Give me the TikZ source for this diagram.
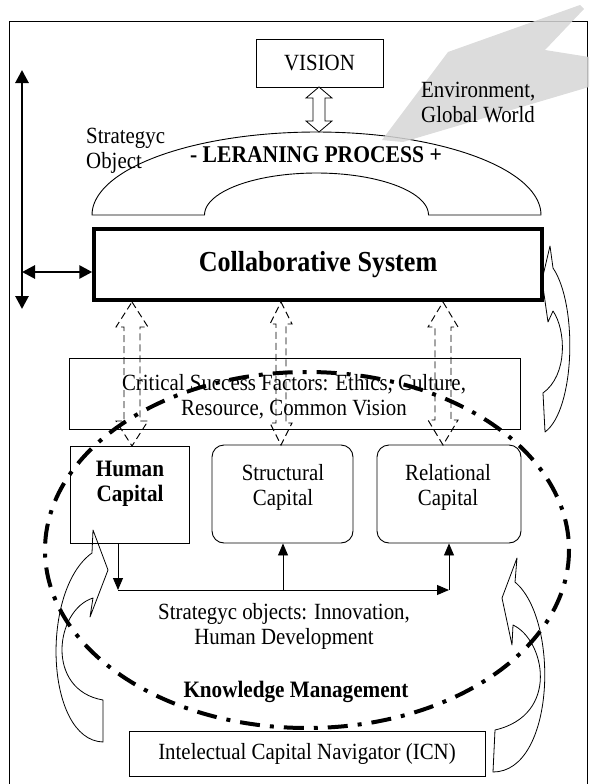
\documentclass[tikz,border=0pt]{standalone}
\usepackage{fontspec}
\setmainfont[FakeStretch=0.9]{Liberation Serif}
\usetikzlibrary{arrows.meta}
% block arrow with heads at both ends: #1 x, #2 y top, #3 y bottom, #4 half shaft, #5 half head, #6 head length, #7 style
\newcommand{\myblockarrow}[7]{%
  \draw[#7] (#1,#2) -- ({#1+#5},{#2+#6}) -- ({#1+#4},{#2+#6}) -- ({#1+#4},{#3-#6}) -- ({#1+#5},{#3-#6})
    -- (#1,#3) -- ({#1-#5},{#3-#6}) -- ({#1-#4},{#3-#6}) -- ({#1-#4},{#2+#6}) -- ({#1-#5},{#2+#6}) -- cycle;}
\begin{document}
\begin{tikzpicture}[x=1pt,y=-1pt,
  txt/.style={font=\fontsize{23.2}{25}\selectfont, align=center, inner sep=0pt},
  btxt/.style={font=\bfseries\fontsize{23.5}{25}\selectfont, align=center, inner sep=0pt},
  box/.style={draw, line width=0.9pt, fill=white, inner sep=0pt},
  rbox/.style={box, rounded corners=12pt},
  conn/.style={line width=0.9pt, -{Triangle[length=12pt,width=10pt]}},
  bigarrow/.style={line width=2.8pt, {Triangle[length=13pt,width=13pt]}-{Triangle[length=13pt,width=13pt]}},
  dasharrow/.style={draw, dash pattern=on 7pt off 4pt, line width=0.95pt},
  hollow/.style={draw, fill=white, line width=0.8pt},
  curvearrow/.style={draw, line width=0.8pt, line join=round},
  kmline/.style={line width=4pt, dash pattern=on 20pt off 10pt on 4pt off 10pt},
]
\useasboundingbox (0,0) rectangle (589,784);
% frame
\draw[line width=1pt] (9,790) -- (9,22) -- (587,22) -- (587,790);

% learning process arc
\draw[line width=0.9pt, fill=white] (92,215)
  -- plot[domain=180:360, samples=90] ({316.5+224.5*cos(\x)},{215+83*sin(\x)})
  -- (428.5,215)
  -- plot[domain=360:180, samples=60] ({316.5+112*cos(\x)},{215+42*sin(\x)})
  -- cycle;

% environment ribbon
\fill[gray!32, opacity=0.85] (382,140) -- (448,52) -- (580,5) -- (584,9) -- (545,50) -- (589,57) -- (589,87) -- (403,142) -- cycle;

% vision
\node[box, txt, minimum width=127pt, minimum height=48pt] (vision) at (319.5,63) {VISION};
\coordinate (arctop) at (319,132);
\myblockarrow{319}{87}{132}{6}{13}{11}{hollow}

\node[btxt, font=\bfseries\fontsize{24}{25}\selectfont] (lp) at (316,155) {- LERANING PROCESS +};
\node[txt, align=left, anchor=base west] (so) at (86,168) {Strategyc\\Object};
\node[txt, align=left, anchor=base west] (env) at (421,122) {Environment,\\Global World};

% collaborative system
\node[draw, line width=3.5pt, minimum width=448pt, minimum height=71pt, inner sep=0pt,
      font=\bfseries\fontsize{29}{30}\selectfont] (cs) at (318,264.5) {\raisebox{3pt}{Collaborative System}};

% left thick arrows
\coordinate (vt) at (22,70);
\coordinate (vb) at (22,309);
\draw[bigarrow] (vt) -- (vb);
\coordinate (hl) at (22,272);
\draw[bigarrow] (hl) -- (hl -| cs.west);

% critical success factors
\node[box, minimum width=451pt, minimum height=71pt] (csf) at (294.5,393.5) {};
\node[txt] (csft) at (294,397) {Critical Success Factors: Ethics, Culture,\\Resource, Common Vision};

% capital boxes
\node[box, minimum width=119pt, minimum height=97pt] (hc) at (129.5,494.5) {};
\node[btxt] (hct) at (130,484) {Human\\Capital};
\node[rbox, minimum width=141pt, minimum height=98pt] (sc) at (282.5,494) {};
\node[txt] (sct) at (283,487) {Structural\\Capital};
\node[rbox, minimum width=144pt, minimum height=98pt] (rc) at (449,494) {};
\node[txt] (rct) at (448,487) {Relational\\Capital};

% dashed hollow double arrows
\myblockarrow{132}{302}{446}{8}{16}{25}{dasharrow}
\myblockarrow{281}{302}{445}{5}{11}{22}{dasharrow}
\myblockarrow{443}{302}{445}{8}{15}{25}{dasharrow}

% connectors
\coordinate (c1) at (118,590);
\coordinate (c2) at (283,590);
\coordinate (c3) at (449,590);
\draw[conn] (c1 |- hc.south) -- (c1);
\draw[conn] (c1) -- (c3);
\draw[conn] (c3) -- (rc.south);
\draw[conn] (c2) -- (c2 |- sc.south);

\node[txt] (sob) at (284,626) {Strategyc objects: Innovation,\\Human Development};
\node[btxt] (km) at (296,692) {Knowledge Management};
\node[box, txt, minimum width=356pt, minimum height=45pt] (icn) at (307,753.5) {Intelectual Capital Navigator (ICN)};

% curved arrows
\draw[curvearrow] (553,268) -- (550,246) -- (542,280) -- (548,322) -- (553,311)
  .. controls (566,330) and (568,375) .. (543,393) -- (545,432)
  .. controls (575,410) and (578,305) .. (553,268) -- cycle;
\draw[curvearrow] (92,553) -- (93,530) -- (108,570) -- (90,617) -- (93,598)
  .. controls (55,610) and (45,690) .. (103,700) -- (103,742)
  .. controls (45,740) and (40,590) .. (92,553) -- cycle;
\draw[curvearrow] (515,582) -- (517,558) -- (502,598) -- (512,645) -- (513,625)
  .. controls (545,640) and (560,715) .. (495,730) -- (493,772)
  .. controls (555,772) and (560,620) .. (515,582) -- cycle;

% knowledge management dash-dot ellipse
\draw[kmline] (307,550) ellipse [x radius=262, y radius=178];
\end{tikzpicture}
\end{document}
